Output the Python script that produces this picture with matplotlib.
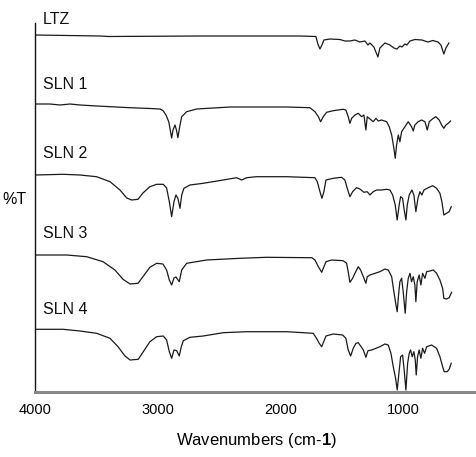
import matplotlib
matplotlib.use("Agg")
import matplotlib.pyplot as plt
from matplotlib import font_manager

# ---------------- data (wavenumber cm-1, stacked %T in arbitrary units) ----------------
labels = ["LTZ", "SLN 1", "SLN 2", "SLN 3", "SLN 4"]
label_y = [373, 307.5, 239, 159, 82.5]

wn_ltz = [4000, 3471, 3400, 2656, 1842, 1712, 1696, 1679, 1663, 1647, 1598, 1516, 1476, 1435, 1394,
          1354, 1313, 1288, 1272, 1240, 1207, 1191, 1150, 1109, 1077, 1052, 1028, 1012, 987, 971,
          946, 906, 849, 800, 759, 718, 694, 670, 653, 629]
t_ltz = [357, 356, 355.5, 356, 356, 355.5, 348, 343, 347, 352, 353, 352.5, 351, 351, 352,
         350, 351, 347, 349, 345, 335, 344, 349, 347, 344, 343, 346, 345, 348, 347,
         351, 352.5, 352, 350, 351.5, 350, 347, 338, 344, 349]

wn_sln1 = [4000, 3878, 3796, 3715, 3634, 3498, 3226, 3064, 2982, 2958, 2933, 2910, 2887, 2876, 2860,
           2848, 2836, 2819, 2805, 2765, 2683, 2412, 1948, 1761, 1720, 1692, 1674, 1652, 1625, 1571,
           1490, 1468, 1449, 1435, 1421, 1394, 1367, 1340, 1321, 1305, 1294, 1272, 1245, 1223, 1204,
           1177, 1136, 1115, 1095, 1077, 1066, 1055, 1041, 1028, 1014, 987, 960, 933, 919, 906,
           879, 851, 824, 805, 789, 756, 735, 708, 688, 670, 653, 635, 615]
t_sln1 = [288, 288, 287, 288, 287, 286, 284.3, 283.5, 283, 281.5, 277, 270, 254, 262, 267,
          262, 254.3, 267, 275.3, 280.3, 283, 285, 285, 284.3, 280.3, 275.3, 270.3, 275.3, 279.7, 281.3,
          282.7, 282, 275.3, 268.7, 273.7, 277, 278.7, 275.3, 277, 262, 275.3, 273, 270.3, 273.7, 271,
          272, 270.3, 265.3, 257, 243.7, 233.7, 247, 257, 250.3, 260.3, 265.3, 270.3, 265.3, 261, 267,
          270.3, 272, 270.3, 262, 270.3, 273.7, 275.3, 272, 267, 263.7, 267, 268.7, 271]

wn_sln2 = [4000, 3772, 3634, 3498, 3389, 3308, 3253, 3213, 3161, 3121, 3064, 3009, 2955, 2928, 2906,
           2887, 2868, 2852, 2836, 2819, 2805, 2787, 2738, 2630, 2467, 2358, 2317, 2276, 2195, 1950,
           1720, 1701, 1679, 1663, 1647, 1630, 1571, 1503, 1476, 1457, 1435, 1413, 1381, 1354, 1321,
           1294, 1272, 1245, 1218, 1177, 1136, 1109, 1087, 1066, 1050, 1034, 1022, 1006, 995, 979,
           968, 952, 930, 914, 898, 881, 865, 849, 832, 797, 761, 729, 702, 686, 670,
           648, 627, 610]
t_sln2 = [217, 217.7, 217, 215.3, 210.3, 202, 194, 192, 192.7, 199, 205.3, 207.7, 207.7, 204, 190.3,
          175.3, 190.3, 197, 193.7, 183.7, 197, 203.7, 207, 208.7, 212, 214.3, 212, 214.3, 215.3, 215.3,
          214.3, 210.3, 200.3, 193.7, 200.3, 212, 213.7, 214.7, 212, 203.7, 195.3, 200.3, 204.3, 203, 199.7,
          200.3, 197, 200.3, 202, 202, 202.7, 202, 197, 187, 172, 187, 195.3, 193.7, 183.7, 172,
          187, 197, 202, 197, 180.3, 193.7, 200.3, 197, 202, 204.3, 206.3, 203.7, 198.7, 190.3, 177,
          178.7, 180.3, 185.3]

wn_sln3 = [4000, 3742, 3579, 3446, 3349, 3283, 3226, 3161, 3121, 3064, 3009, 2958, 2928, 2906, 2887,
           2868, 2852, 2825, 2805, 2765, 2602, 2331, 2114, 1761, 1745, 1720, 1692, 1665, 1652, 1630,
           1584, 1490, 1462, 1449, 1435, 1413, 1394, 1367, 1348, 1326, 1305, 1294, 1272, 1231, 1191,
           1150, 1123, 1095, 1077, 1060, 1050, 1039, 1028, 1014, 1001, 985, 973, 960, 946, 933,
           919, 906, 898, 887, 871, 857, 843, 824, 810, 784, 756, 729, 702, 680, 670,
           648, 627, 607]
t_sln3 = [137, 137, 135.3, 130.3, 122, 112.7, 108, 108.7, 115.3, 124.7, 128.7, 128, 122, 112, 107,
          114, 115, 110.3, 122, 128.7, 132, 133.7, 134.7, 134.3, 134.3, 132, 125.3, 119.7, 123.7, 130.3,
          132, 131.3, 128.7, 120.3, 109.7, 113.7, 118.7, 125.3, 122, 115.3, 108.7, 115.3, 117, 118.7, 120.3,
          123, 122, 115.3, 100.3, 87, 80.3, 97, 110.3, 113.7, 100.3, 78.7, 100.3, 113.7, 118.7, 110.3,
          115.3, 107, 90.3, 110.3, 117, 107, 118.7, 113.7, 120.3, 121, 122, 118.7, 112, 103.7, 93.7,
          93, 94.3, 99.7]

wn_sln4 = [4000, 3770, 3634, 3498, 3389, 3324, 3267, 3226, 3159, 3118, 3064, 3009, 2955, 2928, 2906,
           2887, 2868, 2846, 2825, 2809, 2792, 2738, 2630, 2467, 2276, 1950, 1734, 1707, 1685, 1665,
           1652, 1630, 1571, 1494, 1468, 1449, 1429, 1408, 1386, 1367, 1348, 1326, 1305, 1288, 1258,
           1223, 1191, 1150, 1123, 1101, 1082, 1063, 1050, 1036, 1022, 1006, 993, 979, 965, 952,
           941, 928, 914, 903, 895, 884, 871, 857, 843, 827, 810, 770, 729, 702, 680,
           667, 643, 627, 610]
t_sln4 = [62.7, 62.7, 61, 58.7, 53.7, 45.3, 36, 32, 32.7, 40.3, 50.3, 55.3, 56, 52, 40.3,
          33.7, 42, 41.3, 36, 45, 51.3, 54.7, 56, 59.3, 60.3, 60.3, 58.7, 53.7, 48.7, 45.3,
          49.3, 56, 58, 57, 53.7, 42, 36, 43.7, 48.7, 49.3, 46, 42, 34.7, 41.3, 42,
          43.7, 45.3, 48, 47, 38.7, 25.3, 13.7, 2, 18.7, 35.3, 37, 22, 2, 28.7, 38.7,
          42, 35.3, 40.3, 32, 17, 35.3, 42, 33.7, 43.7, 38.7, 45.3, 47, 43.7, 35.3, 25.3,
          20.3, 20.3, 22.7, 28.7]

spectra = [(wn_ltz, t_ltz), (wn_sln1, t_sln1), (wn_sln2, t_sln2), (wn_sln3, t_sln3), (wn_sln4, t_sln4)]
x_ticks = [4000, 3000, 2000, 1000]
x_tick_labels = ["4000", "3000", "2000", "1000"]

# ---------------- fonts ----------------
def has_font(name):
    try:
        font_manager.findfont(font_manager.FontProperties(family=name), fallback_to_default=False)
        return True
    except Exception:
        return False

base_font = "Liberation Sans" if has_font("Liberation Sans") else "DejaVu Sans"
narrow_font = "Liberation Sans Narrow" if has_font("Liberation Sans Narrow") else base_font
plt.rcParams["font.family"] = [base_font, "DejaVu Sans"]
plt.rcParams["mathtext.fontset"] = "custom"
plt.rcParams["mathtext.rm"] = base_font
plt.rcParams["mathtext.bf"] = base_font + ":bold"

# ---------------- figure ----------------
W, H = 477, 457
fig = plt.figure(figsize=(W / 100, H / 100), dpi=100)
ax = fig.add_axes([35 / W, (H - 392) / H, (W - 35) / W, (392 - 23) / H])

for (wn, t) in spectra:
    ax.plot(wn, t, color="#1a1a1a", lw=0.9)

ax.set_xlim(4000, 400)
ax.set_ylim(0, 369)

for lab, ly in zip(labels, label_y):
    ax.text(3935, ly, lab, ha="left", va="center", fontsize=11.5,
            family=[narrow_font, "DejaVu Sans"], color="#111")

ax.spines["top"].set_visible(False)
ax.spines["right"].set_visible(False)
ax.spines["left"].set_color("#111")
ax.spines["left"].set_linewidth(1.0)
ax.spines["bottom"].set_color("#888")
ax.spines["bottom"].set_linewidth(2.2)

ax.set_xticks(x_ticks)
ax.set_xticklabels(x_tick_labels, family=[narrow_font, "DejaVu Sans"], fontsize=10.5)
ax.tick_params(axis="x", length=0, pad=8)
ax.set_yticks([])

ax.set_xlabel(r"Wavenumbers (cm-$\mathbf{1}$)", fontsize=12, labelpad=10)
ax.set_ylabel("%T", rotation=0, ha="left", va="center", fontsize=11.5,
              family=[narrow_font, "DejaVu Sans"])
ax.yaxis.set_label_coords((2 - 35) / (W - 35), (392 - 199) / 369)

fig.savefig("out.png", dpi=100)
